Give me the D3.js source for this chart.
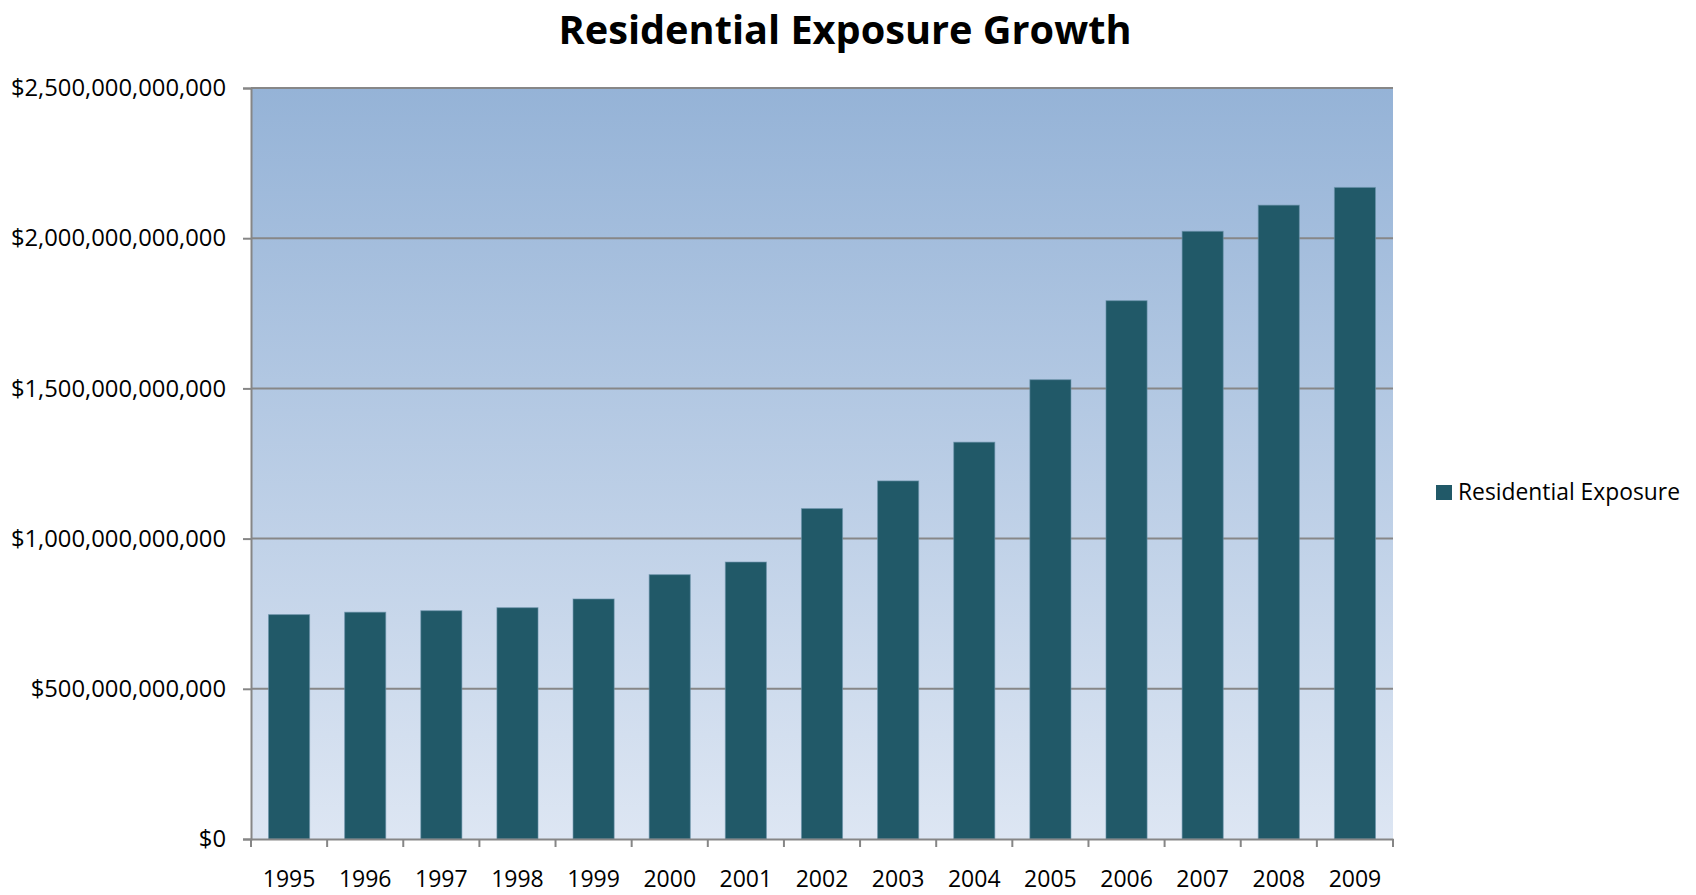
<!DOCTYPE html>
<html>
<head>
<meta charset="utf-8">
<script src="https://d3js.org/d3.v7.min.js"></script>
<style>
body { margin: 0; background: #fff; }
text { font-family: "Open Sans", "Noto Sans", sans-serif; fill: #000; }
</style>
</head>
<body>
<div id="chart"></div>
<script>

// chart data (values in billions of dollars)
var years = ["1995", "1996", "1997", "1998", "1999", "2000", "2001", "2002",
             "2003", "2004", "2005", "2006", "2007", "2008", "2009"];
var exposure = [747, 755, 760, 770, 799, 880, 922, 1100,
                1192, 1321, 1529, 1792, 2023, 2110, 2169];
var yTicks = [0, 500, 1000, 1500, 2000, 2500];
var seriesName = "Residential Exposure";
var chartTitle = "Residential Exposure Growth";

var data = years.map(function(y, i) { return {year: y, value: exposure[i] * 1e9}; });

var W = 1696, H = 895;
var margin = {top: 88, right: 303, bottom: 56, left: 251};
var width = W - margin.left - margin.right,
    height = H - margin.top - margin.bottom;

var svg = d3.select("#chart")
  .append("svg")
  .attr("width", W)
  .attr("height", H);

var defs = svg.append("defs");
var grad = defs.append("linearGradient")
  .attr("id", "bg")
  .attr("x1", 0).attr("y1", 0).attr("x2", 0).attr("y2", 1);
grad.append("stop").attr("offset", "0%").attr("stop-color", "#95b3d7");
grad.append("stop").attr("offset", "100%").attr("stop-color", "#dde6f3");

var g = svg.append("g")
  .attr("transform", "translate(" + margin.left + "," + margin.top + ")");

var x = d3.scaleBand()
  .domain(years)
  .range([0, width])
  .paddingInner(0.46)
  .paddingOuter(0.23);

var y = d3.scaleLinear()
  .domain([0, 2500e9])
  .range([height, 0]);

// plot area
g.append("rect")
  .attr("width", width)
  .attr("height", height)
  .attr("fill", "url(#bg)");

// gridlines
g.append("g")
  .selectAll("line")
  .data(yTicks.slice(1))
  .join("line")
    .attr("x1", 0)
    .attr("x2", width)
    .attr("y1", d => y(d * 1e9))
    .attr("y2", d => y(d * 1e9))
    .attr("stroke", "#878787")
    .attr("stroke-width", 2);

// bars
g.append("g")
  .selectAll("rect")
  .data(data)
  .join("rect")
    .attr("x", d => x(d.year))
    .attr("y", d => y(d.value))
    .attr("width", x.bandwidth())
    .attr("height", d => height - y(d.value))
    .attr("fill", "#215968")
    .attr("stroke", "#6b93aa")
    .attr("stroke-opacity", 0.6)
    .attr("stroke-width", 1);

var fmt = d3.format("$,.0f");

// y axis
var yAxis = g.append("g")
  .call(d3.axisLeft(y)
    .tickValues(yTicks.map(d => d * 1e9))
    .tickFormat(fmt)
    .tickSize(8)
    .tickPadding(17));
yAxis.select(".domain").attr("stroke", "#868686").attr("stroke-width", 2);
yAxis.selectAll(".tick line").attr("stroke", "#868686").attr("stroke-width", 2);
yAxis.selectAll(".tick text")
  .style("font-family", "'Open Sans', sans-serif")
  .style("font-size", "23.8px")
  .attr("fill", "#000");

// x axis: ticks between the categories
var xAxis = g.append("g")
  .attr("transform", "translate(0," + height + ")")
  .call(d3.axisBottom(x).tickSize(0).tickPadding(32));
xAxis.select(".domain").attr("stroke", "#868686").attr("stroke-width", 2);
xAxis.selectAll(".tick text")
  .style("font-family", "'Open Sans', sans-serif")
  .style("font-size", "23px")
  .attr("fill", "#000");
xAxis.append("g")
  .selectAll("line")
  .data(d3.range(years.length + 1))
  .join("line")
    .attr("x1", i => i * x.step())
    .attr("x2", i => i * x.step())
    .attr("y1", 0)
    .attr("y2", 8)
    .attr("stroke", "#868686")
    .attr("stroke-width", 2);

// title
svg.append("text")
  .attr("x", 845)
  .attr("y", 44)
  .attr("text-anchor", "middle")
  .attr("font-weight", "bold")
  .attr("font-size", 40)
  .attr("textLength", 573)
  .attr("lengthAdjust", "spacingAndGlyphs")
  .text(chartTitle);

// legend
var legend = svg.append("g")
  .attr("transform", "translate(1436,485)");
legend.append("rect")
  .attr("width", 16)
  .attr("height", 15)
  .attr("fill", "#215968");
legend.append("text")
  .attr("x", 22)
  .attr("y", 14.5)
  .attr("font-size", 23)
  .attr("textLength", 222)
  .attr("lengthAdjust", "spacingAndGlyphs")
  .text(seriesName);

</script>
</body>
</html>
